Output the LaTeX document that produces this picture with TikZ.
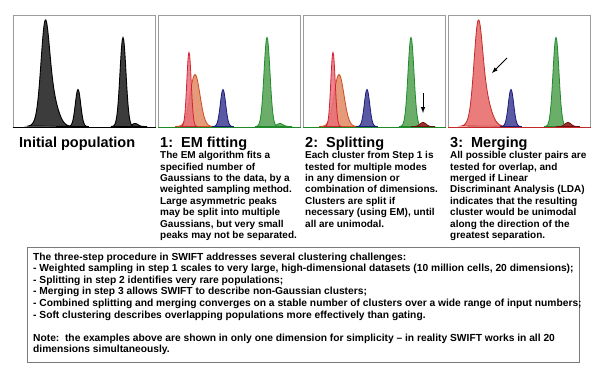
\documentclass[tikz,border=0pt]{standalone}
\usepackage{fontspec}
\setmainfont{Liberation Sans}
\usepackage{xcolor}
\usetikzlibrary{shapes,arrows,positioning,calc}

\definecolor{frameg}{HTML}{9C9C9C}
\definecolor{boxg}{HTML}{7A7A7A}
\definecolor{blkf}{HTML}{3C3C3C}
\definecolor{redl}{HTML}{D42030}
\definecolor{redf}{HTML}{E8707A}
\definecolor{orgl}{HTML}{D04A22}
\definecolor{orgf}{HTML}{E08A62}
\definecolor{blul}{HTML}{1C1C7C}
\definecolor{bluf}{HTML}{5A5AA2}
\definecolor{grnl}{HTML}{1E8A2A}
\definecolor{grnf}{HTML}{6AAE6A}
\definecolor{drkl}{HTML}{6A1010}
\definecolor{drkf}{HTML}{A03030}
\definecolor{mrgl}{HTML}{C42828}
\definecolor{mrgf}{HTML}{EA7C7C}

% one gaussian peak: style, centre, height, sigma
\newcommand{\gpeak}[4]{%
  \filldraw[#1] plot[domain={#2-4*#4}:{#2+4*#4},samples=41,smooth]
    (\x,{126.5-#3*exp(-((\x-#2)^2)/(2*#4*#4))}) -- cycle;}

\begin{document}
\begin{tikzpicture}[x=1pt,y=-1pt,node distance=2pt,
  panel/.style={draw=frameg,line width=1pt,minimum width=142pt,minimum height=112pt,inner sep=0pt},
  title/.style={font=\fontsize{14.5}{17}\selectfont\bfseries,anchor=base west,inner sep=0pt},
  desc/.style={font=\fontsize{10}{11.4}\selectfont\bfseries,align=left,anchor=north west,inner sep=0pt},
  blkpk/.style={fill=blkf,draw=black,line width=0.9pt},
  redpk/.style={fill=redf,draw=redl,line width=0.8pt,fill opacity=0.85},
  orgpk/.style={fill=orgf,draw=orgl,line width=0.8pt,fill opacity=0.85},
  blupk/.style={fill=bluf,draw=blul,line width=0.8pt},
  grnpk/.style={fill=grnf,draw=grnl,line width=0.8pt},
  drkpk/.style={fill=drkf,draw=drkl,line width=0.8pt},
  mrgpk/.style={fill=mrgf,draw=mrgl,line width=0.8pt}]
\useasboundingbox (0,0) rectangle (600,378);

% the four panels
\node[panel] (init) at (84,71) {};
\node[panel,right=of init] (emfit) {};
\node[panel,right=of emfit] (split) {};
\node[panel,right=of split] (merge) {};

% Initial population
\filldraw[blkpk] plot[domain=28:75,samples=80,smooth]
  (\x,{126.5-72*exp(-((\x-45)^2)/32)-40*exp(-((\x-49)^2)/98)}) -- cycle;
\gpeak{blkpk}{78}{37}{2.7}
\gpeak{blkpk}{135}{3}{3}
\gpeak{blkpk}{123}{89}{3}

% EM fitting
\gpeak{orgpk}{195}{52}{5}
\gpeak{redpk}{189}{74}{2.2}
\gpeak{blupk}{223}{37}{2.7}
\gpeak{grnpk}{280}{3}{3}
\gpeak{grnpk}{267}{89}{3}

% Splitting
\gpeak{orgpk}{339}{52}{5}
\gpeak{redpk}{333}{74}{2.2}
\gpeak{blupk}{367}{37}{2.7}
\gpeak{grnpk}{411}{89}{3}
\gpeak{drkpk}{423}{4}{3}

% Merging
\filldraw[mrgpk] plot[domain=461:505,samples=80,smooth]
  (\x,{126.5-72*exp(-((\x-478)^2)/32)-40*exp(-((\x-482)^2)/98)}) -- cycle;
\gpeak{blupk}{511}{37}{2.7}
\gpeak{grnpk}{556}{89}{3}
\gpeak{drkpk}{568}{4}{3}

% coloured base lines
\draw[black,line width=1pt] (init.south west) -- (init.south east);
\draw[grnl,line width=1pt] (emfit.south west) -- (emfit.south east);
\draw[grnl,line width=1pt] (split.south west) -- (split.south east);
\draw[mrgl,line width=1pt] (merge.south west) -- (merge.south east);

% pointers
\coordinate (raretail) at (423,93);
\coordinate (rarehead) at (423,113);
\draw[-latex,line width=1pt] (raretail) -- (rarehead);
\coordinate (mrgtail) at (507,58);
\coordinate (mrghead) at (492,73);
\draw[-latex,line width=1pt] (mrgtail) -- (mrghead);

% titles
\node[title] (tinit) at (19,147) {Initial population};
\node[title] (temfit) at (160,147) {1:\ \ EM fitting};
\node[title] (tsplit) at (305,147) {2:\ \ Splitting};
\node[title] (tmerge) at (450,147) {3:\ \ Merging};

% step texts
\node[desc] (demfit) at (160,151.2) {The EM algorithm fits a\\
  specified number of\\
  Gaussians to the data, by a\\
  weighted sampling method.\\
  Large asymmetric peaks\\
  may be split into multiple\\
  Gaussians, but very small\\
  peaks may not be separated.};
\node[desc] (dsplit) at (305,151.2) {Each cluster from Step 1 is\\
  tested for multiple modes\\
  in any dimension or\\
  combination of dimensions.\\
  Clusters are split if\\
  necessary (using EM), until\\
  all are unimodal.};
\node[desc] (dmerge) at (450,151.2) {All possible cluster pairs are\\
  tested for overlap, and\\
  merged if Linear\\
  Discriminant Analysis (LDA)\\
  indicates that the resulting\\
  cluster would be unimodal\\
  along the direction of the\\
  greatest separation.};

% summary box
\node[draw=boxg,line width=0.8pt,minimum width=552pt,minimum height=115pt,
  anchor=north west,inner sep=0pt] (sumbox) at (27,247) {};
\node[desc,font=\fontsize{10.25}{11.6}\selectfont\bfseries] (sumtext) at (33,252.5)
  {The three-step procedure in SWIFT addresses several clustering challenges:\\
  - Weighted sampling in step 1 scales to very large, high-dimensional datasets (10 million cells, 20 dimensions);\\
  - Splitting in step 2 identifies very rare populations;\\
  - Merging in step 3 allows SWIFT to describe non-Gaussian clusters;\\
  - Combined splitting and merging converges on a stable number of clusters over a wide range of input numbers;\\
  - Soft clustering describes overlapping populations more effectively than gating.\\[11.4pt]
  Note:\ \ the examples above are shown in only one dimension for simplicity – in reality SWIFT works in all 20\\
  dimensions simultaneously.};
\end{tikzpicture}
\end{document}
